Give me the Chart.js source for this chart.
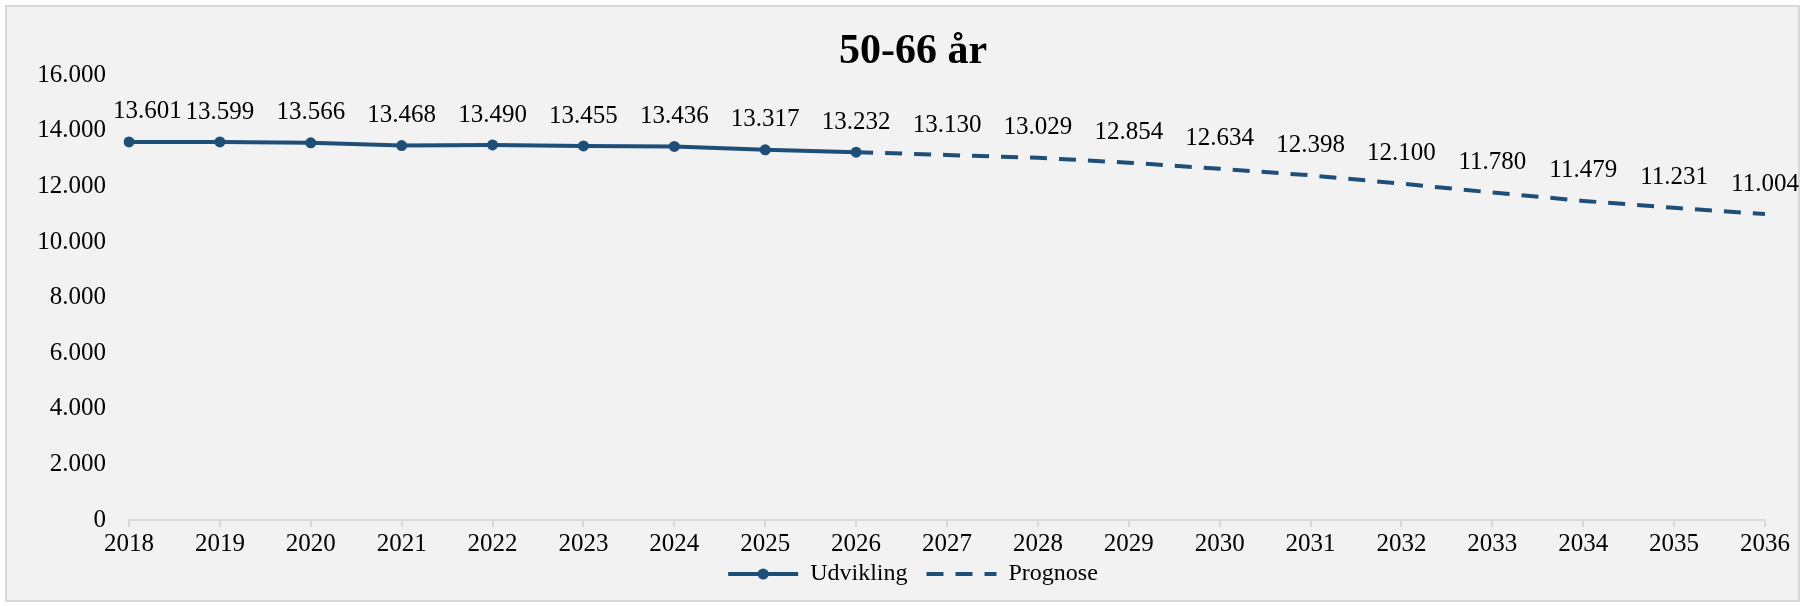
<!DOCTYPE html>
<html>
<head>
<meta charset="utf-8">
<script src="https://cdn.jsdelivr.net/npm/chart.js@4.4.1/dist/chart.umd.min.js"></script>
<style>
  html, body { margin: 0; padding: 0; background: #fff; overflow: hidden; }
  #frame {
    position: absolute; left: 5px; top: 5px; width: 1791px; height: 593px;
    border: 2px solid #d9d9d9; background: #f2f2f2;
  }
  #chart { position: absolute; left: 0; top: 0; }
</style>
</head>
<body>
<div id="frame"></div>
<canvas id="chart" width="1826" height="606"></canvas>
<script>
// years on the x axis
var years = ['2018', '2019', '2020', '2021', '2022', '2023', '2024', '2025', '2026',
  '2027', '2028', '2029', '2030', '2031', '2032', '2033', '2034', '2035', '2036'];

// observed population 50-66 years, 2018-2026
var udvikling = [13601, 13599, 13566, 13468, 13490, 13455, 13436, 13317, 13232];

// forecast 2026-2036 (starts at the last observed year)
var prognose = [13232, 13130, 13029, 12854, 12634, 12398, 12100, 11780, 11479, 11231, 11004];

var yTicks = [0, 2000, 4000, 6000, 8000, 10000, 12000, 14000, 16000];

var blue = '#1f4e79';
var font = 'Liberation Serif';

var fmt = (v) => String(v).replace(/\B(?=(\d{3})+(?!\d))/g, '.');

// pad the series so they line up with the years
var udvData = years.map((y, i) => i < udvikling.length ? udvikling[i] : null);
var progStart = udvikling.length - 1;
var progData = years.map((y, i) => i >= progStart ? prognose[i - progStart] : null);

var valueLabels = {
  id: 'valueLabels',
  afterDatasetsDraw(chart) {
    var ctx = chart.ctx;
    ctx.save();
    ctx.font = '25px "' + font + '"';
    ctx.fillStyle = '#000';
    ctx.textAlign = 'center';
    ctx.textBaseline = 'middle';
    chart.data.datasets.forEach((ds, di) => {
      var meta = chart.getDatasetMeta(di);
      meta.data.forEach((pt, i) => {
        var v = ds.data[i];
        if (v == null || i < (ds.labelFrom || 0)) return;
        var txt = fmt(v);
        var w = ctx.measureText(txt).width;
        var x = Math.max(pt.x, chart.chartArea.left - 16 + w / 2);
        ctx.fillText(txt, x, pt.y - 30);
      });
    });
    ctx.restore();
  }
};

// dot in the middle of the "Udvikling" legend line
var legendDot = {
  id: 'legendDot',
  afterDraw(chart) {
    var box = chart.legend.legendHitBoxes[0];
    if (!box) return;
    var ctx = chart.ctx;
    ctx.save();
    ctx.fillStyle = blue;
    ctx.beginPath();
    ctx.arc(box.left + 35, box.top + box.height / 2, 5.5, 0, Math.PI * 2);
    ctx.fill();
    ctx.restore();
  }
};

new Chart(document.getElementById('chart').getContext('2d'), {
  type: 'line',
  data: {
    labels: years,
    datasets: [{
      label: 'Udvikling',
      data: udvData,
      borderColor: blue,
      backgroundColor: blue,
      borderWidth: 4,
      pointRadius: 5.5,
      pointBackgroundColor: blue,
      pointBorderWidth: 0,
      tension: 0
    }, {
      label: 'Prognose',
      data: progData,
      labelFrom: progStart + 1,
      borderColor: blue,
      backgroundColor: blue,
      borderWidth: 4,
      borderDash: [17, 12],
      pointRadius: 0,
      tension: 0
    }]
  },
  options: {
    responsive: false,
    animation: false,
    devicePixelRatio: 1,
    layout: { padding: { left: 0, right: 0, top: 0, bottom: 10 } },
    plugins: {
      title: {
        display: true,
        text: '50-66 år',
        color: '#000',
        font: { family: font, size: 42, weight: 'bold', lineHeight: 1.1 },
        padding: { top: 29, bottom: 0 }
      },
      legend: {
        position: 'bottom',
        labels: {
          usePointStyle: true,
          pointStyleWidth: 70,
          color: '#000',
          padding: 1,
          font: { family: font, size: 24 },
          // trailing spaces widen the gap between the two legend entries
          generateLabels: (chart) => chart.data.datasets.map((ds, i) => ({
            text: i === 0 ? ds.label + '   ' : ds.label,
            datasetIndex: i,
            pointStyle: 'line',
            strokeStyle: ds.borderColor,
            fillStyle: ds.borderColor,
            lineWidth: ds.borderWidth,
            lineDash: ds.borderDash || [],
            fontColor: '#000',
            hidden: false
          }))
        }
      },
      tooltip: { enabled: false }
    },
    scales: {
      x: {
        offset: false,
        grid: { drawOnChartArea: false, drawTicks: true, tickLength: 7, color: '#d9d9d9', lineWidth: 2 },
        border: { display: true, color: '#d9d9d9', width: 2 },
        ticks: { color: '#000', font: { family: font, size: 25 }, maxRotation: 0, autoSkip: false, padding: 2 }
      },
      y: {
        min: yTicks[0],
        max: yTicks[yTicks.length - 1],
        afterBuildTicks: (s) => { s.ticks = yTicks.map(v => ({ value: v })); },
        afterFit: (s) => { s.width = 129; },
        grid: { display: false, drawTicks: false },
        border: { display: false },
        ticks: { color: '#000', font: { family: font, size: 25 }, padding: 23, callback: (v) => fmt(v) }
      },
      // empty right-hand axis that only reserves space on the right
      yRight: {
        position: 'right',
        min: 0,
        max: 1,
        afterFit: (s) => { s.width = 61; },
        grid: { display: false, drawTicks: false },
        border: { display: false },
        ticks: { display: false }
      }
    }
  },
  plugins: [valueLabels, legendDot]
});
</script>
</body>
</html>
